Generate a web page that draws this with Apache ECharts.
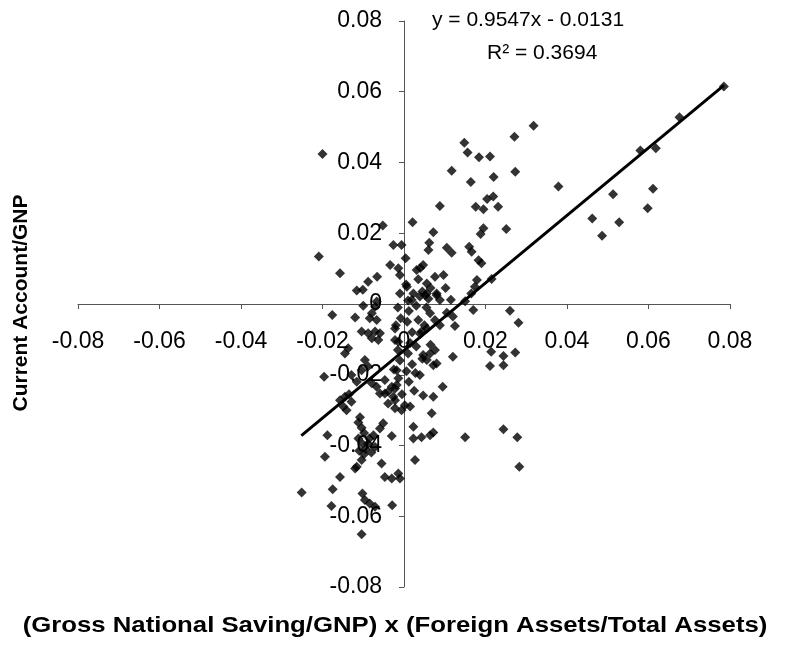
<!DOCTYPE html>
<html>
<head>
<meta charset="utf-8">
<script src="https://cdn.jsdelivr.net/npm/echarts@6/dist/echarts.min.js"></script>
<style>
    html, body { margin: 0; padding: 0; background: #fff; }
    #chart { width: 789px; height: 648px; }
</style>
</head>
<body>
<div id="chart"></div>
<script>
// (Gross National Saving/GNP) x (Foreign Assets/Total Assets)
const savingShare = [
    0.0318, 0.0271, 0.0148, 0.0156, 0.0184, 0.0211, 0.0117, 0.0273, 0.0164, 0.0220,
    0.0204, 0.0219, 0.0088, 0.0176, 0.0195, 0.0231, 0.0195, 0.0188, 0.0251, 0.0072,
    0.0062, 0.0105, 0.0160, 0.0117, 0.0060, 0.0166, 0.0183, 0.0190, 0.0215, 0.0179,
    0.0174, 0.0097, 0.0076, 0.0170, 0.0260, 0.0281, 0.0125, 0.0150, 0.0165,
    0.0379, 0.0513, 0.0611, 0.0462, 0.0528, 0.0598, 0.0486, 0.0580, 0.0618, 0.0676, 0.0785,
    0.0273, 0.0214, 0.0244, 0.0244, 0.0211, 0.0120, 0.0095, 0.0072, 0.0047, 0.0076,
    0.0056, 0.0072, 0.0064, 0.0047, 0.0039, 0.0080, 0.0068, 0.0072, 0.0064, 0.0043,
    0.0150, 0.0244, 0.0278, 0.0283, 0.0023, 0.0023, 0.0027,
    0.0047, 0.0080, 0.0088, 0.0056, 0.0052, 0.0064, 0.0076, 0.0088, 0.0056, 0.0043,
    0.0040, 0.0021, 0.0004, 0.0031, 0.0040, 0.0007, 0.0023, 0.0039, 0.0019, 0.0056, 0.0080,
    0.0005, 0.0010, 0.0012, 0.0008, 0.0020, 0.0015, 0.0010, 0.0020, 0.0006, 0.0012,
    0.0025, 0.0035, 0.0045, 0.0030, 0.0035, 0.0050, 0.0030, 0.0045, 0.0065, 0.0060,
    0.0055, 0.0065, 0.0028, 0.0102, 0.0115, 0.0105, 0.0120, 0.0002, 0.0015,
    -0.0200, -0.0052, -0.0026, -0.0006, -0.0209, -0.0157, -0.0116, -0.0101, -0.0088, -0.0066,
    -0.0034, -0.0014, -0.0010, -0.0176, -0.0120, -0.0100, -0.0067, -0.0071, -0.0079, -0.0084,
    -0.0067, -0.0104, -0.0088, -0.0071, -0.0059, -0.0079, -0.0063, -0.0145, -0.0137, -0.0022,
    -0.0022, -0.0014, -0.0196, -0.0096, -0.0088, -0.0104, -0.0129, -0.0116, -0.0079, -0.0047,
    -0.0030, -0.0047, -0.0026, -0.0145, -0.0018, -0.0014, -0.0018, -0.0022, -0.0067, -0.0059,
    -0.0039, -0.0022, -0.0157, -0.0135, -0.0129, -0.0141, -0.0149, -0.0039, -0.0022, -0.0006,
    -0.0188, -0.0194, -0.0251, -0.0175, -0.0157, -0.0120, -0.0102, -0.0096, -0.0084, -0.0071,
    -0.0178, -0.0104, -0.0029, -0.0055, -0.0047, -0.0030, -0.0010, -0.0014, -0.0030, -0.0051,
    -0.0059, -0.0075, -0.0071, -0.0104, -0.0116,
    -0.0108, -0.0112, -0.0104, -0.0098, -0.0112, -0.0102, -0.0094, -0.0110, -0.0098, -0.0088,
    -0.0080, -0.0085,
    -0.0010, -0.0015, -0.0008, -0.0020, -0.0015, -0.0010, -0.0025, -0.0005
]

// Current Account/GNP
const currentAccount = [
    0.0504, 0.0473, 0.0456, 0.0428, 0.0415, 0.0417, 0.0377, 0.0374, 0.0345, 0.0359,
    0.0297, 0.0304, 0.0277, 0.0275, 0.0268, 0.0275, 0.0214, 0.0198, 0.0212, 0.0203,
    0.0173, 0.0159, 0.0162, 0.0145, 0.0153, 0.0148, 0.0124, 0.0115, 0.0071, 0.0068,
    0.0049, 0.0082, 0.0077, -0.0017, -0.0019, -0.0053, -0.0062, 0.0008, 0.0030,
    0.0332, 0.0310, 0.0326, 0.0242, 0.0231, 0.0271, 0.0193, 0.0434, 0.0440, 0.0528, 0.0615,
    -0.0137, -0.0135, -0.0147, -0.0173, -0.0175, -0.0149, -0.0234, -0.0262, -0.0259, -0.0130,
    -0.0158, -0.0173, -0.0140, -0.0144, -0.0201, -0.0168, -0.0309, -0.0363, -0.0371, -0.0377,
    -0.0377, -0.0354, -0.0377, -0.0460, -0.0347, -0.0380, -0.0441,
    0.0110, 0.0030, 0.0011, 0.0058, 0.0025, -0.0026, -0.0045, -0.0060, -0.0069, -0.0078,
    -0.0085, 0.0231, 0.0129, 0.0096, 0.0102, 0.0049, 0.0030, 0.0021, 0.0011, 0.0030, 0.0025,
    0.0055, 0.0010, -0.0020, -0.0050, -0.0080, -0.0110, -0.0140, -0.0170, -0.0190, -0.0220,
    -0.0245, 0.0070, 0.0035, -0.0005, -0.0045, -0.0060, -0.0120, -0.0155, 0.0045, 0.0015,
    -0.0010, -0.0115, -0.0195, 0.0045, 0.0012, -0.0025, -0.0035, -0.0286, -0.0290,
    0.0424, 0.0222, 0.0167, 0.0167, 0.0134, 0.0087, 0.0038, 0.0040, 0.0063, 0.0077,
    0.0110, 0.0101, 0.0082, -0.0031, -0.0038, -0.0005, 0.0007, -0.0008, -0.0026, -0.0040,
    -0.0045, -0.0078, -0.0083, -0.0078, -0.0083, -0.0097, -0.0102, -0.0140, -0.0125, -0.0102,
    -0.0069, -0.0107, -0.0206, -0.0158, -0.0177, -0.0187, -0.0201, -0.0220, -0.0224, -0.0215,
    -0.0234, -0.0253, -0.0262, -0.0262, -0.0187, -0.0210, -0.0229, -0.0239, -0.0234, -0.0253,
    -0.0248, -0.0272, -0.0272, -0.0255, -0.0276, -0.0300, -0.0290, -0.0281, -0.0295, -0.0300,
    -0.0371, -0.0432, -0.0533, -0.0524, -0.0489, -0.0465, -0.0536, -0.0554, -0.0564, -0.0573,
    -0.0571, -0.0651, -0.0569, -0.0451, -0.0489, -0.0493, -0.0493, -0.0479, -0.0373, -0.0337,
    -0.0352, -0.0371, -0.0404, -0.0441, -0.0460,
    -0.0320, -0.0335, -0.0350, -0.0365, -0.0380, -0.0395, -0.0410, -0.0415, -0.0425, -0.0395,
    -0.0420, -0.0380,
    0.0030, -0.0010, -0.0040, -0.0060, -0.0130, -0.0160, -0.0185, -0.0255
]

// trend line ends
const trendStart = [-0.0252, -0.0372]
const trendEnd = [0.0785, 0.0618]
const trendEquation = 'y = 0.9547x - 0.0131'
const trendFit = 'R² = 0.3694'

const axisMin = -0.08
const axisMax = 0.08
const axisStep = 0.02

var points = []
for (var i = 0; i < savingShare.length; i++) {
    points.push([savingShare[i], currentAccount[i]])
}

var myChart = echarts.init(document.getElementById('chart'))
var fontFamily = '"Liberation Sans", Arial, sans-serif'

// plot box in pixels; axes are shifted onto the zero lines with offset
var plot = { left: 78, right: 730, top: 21, bottom: 587 }
var zeroX = plot.left + (0 - axisMin) / (axisMax - axisMin) * (plot.right - plot.left)
var zeroY = plot.bottom - (0 - axisMin) / (axisMax - axisMin) * (plot.bottom - plot.top)

function tickLabel(v) {
    return String(+v.toFixed(2))
}

var axisCommon = {
    type: 'value',
    min: axisMin,
    max: axisMax,
    interval: axisStep,
    splitLine: { show: false },
    axisLine: { onZero: false, lineStyle: { color: '#555', width: 1 } },
    axisTick: { show: true, length: 5, lineStyle: { color: '#555' } }
}

var option = {
    animation: false,
    backgroundColor: '#fff',
    grid: {
        left: plot.left, right: 789 - plot.right, top: plot.top, bottom: 648 - plot.bottom,
        containLabel: false, outerBoundsMode: 'none'
    },
    xAxis: Object.assign({}, axisCommon, {
        position: 'bottom',
        offset: -(plot.bottom - zeroY),
        axisLabel: { fontFamily: fontFamily, fontSize: 23, color: '#000', margin: 26, formatter: tickLabel, showMinLabel: true, showMaxLabel: true }
    }),
    yAxis: Object.assign({}, axisCommon, {
        position: 'left',
        offset: -(zeroX - plot.left),
        axisLabel: { fontFamily: fontFamily, fontSize: 23, color: '#000', margin: 22, formatter: tickLabel, showMinLabel: true, showMaxLabel: true }
    }),
    graphic: [
        {
            type: 'text',
            left: 432,
            top: 10,
            style: { text: trendEquation, font: '21px ' + fontFamily, fill: '#000' }
        },
        {
            type: 'text',
            left: 487,
            top: 43,
            style: { text: trendFit, font: '21px ' + fontFamily, fill: '#000' }
        },
        {
            // x axis title
            type: 'text',
            x: 395,
            y: 626,
            scaleX: 1.17,
            style: {
                text: '(Gross National Saving/GNP) x (Foreign Assets/Total Assets)',
                font: 'bold 22px ' + fontFamily,
                fill: '#000',
                align: 'center',
                verticalAlign: 'middle'
            }
        },
        {
            // y axis title
            type: 'text',
            x: 21,
            y: 303,
            rotation: Math.PI / 2,
            style: {
                text: 'Current Account/GNP',
                font: 'bold 21px ' + fontFamily,
                fill: '#000',
                align: 'center',
                verticalAlign: 'middle'
            }
        }
    ],
    series: [
        {
            type: 'scatter',
            symbol: 'diamond',
            symbolSize: 10,
            itemStyle: { color: '#000' },
            data: points,
            z: 3
        },
        {
            type: 'line',
            data: [trendStart, trendEnd],
            symbol: 'none',
            lineStyle: { color: '#000', width: 3 },
            z: 4
        }
    ]
}

option && myChart.setOption(option)
</script>
</body>
</html>
